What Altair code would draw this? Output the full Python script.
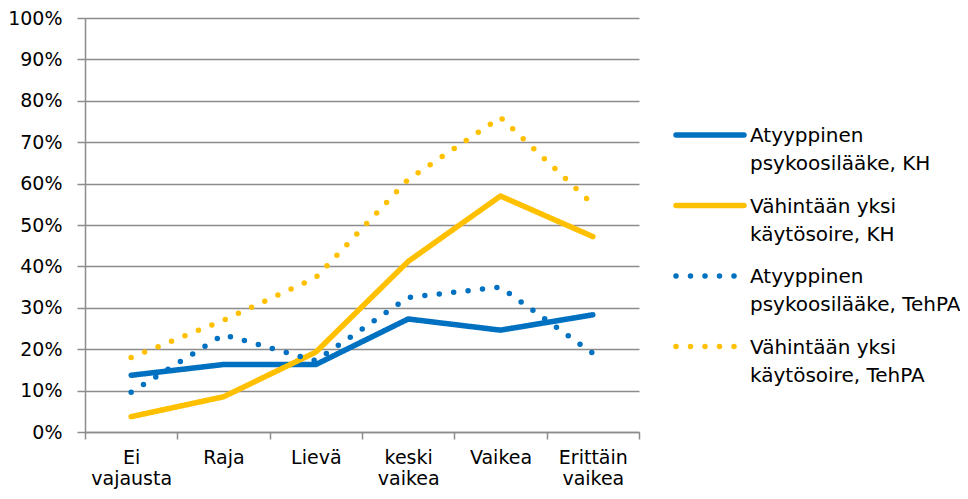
import altair as alt
import pandas as pd

categories = ["Ei vajausta", "Raja", "Lievä", "keski vaikea", "Vaikea", "Erittäin vaikea"]
series = [
    "Atyyppinen psykoosilääke, KH",
    "Vähintään yksi käytösoire, KH",
    "Atyyppinen psykoosilääke, TehPA",
    "Vähintään yksi käytösoire, TehPA",
]
aty_kh = [13.7, 16.3, 16.3, 27.3, 24.6, 28.3]
vah_kh = [3.7, 8.5, 19.3, 41.2, 57.0, 47.2]
aty_teh = [9.6, 23.5, 17.2, 32.5, 35.0, 19.0]
vah_teh = [18.0, 27.0, 37.3, 61.0, 76.0, 55.0]

colors = ["#0070C0", "#FFC000", "#0070C0", "#FFC000"]
dashes = [[1, 0], [1, 0], [0, 14.5], [0, 14.5]]
widths = [5.5, 5.5, 6.5, 6.5]

rows = []
for s, vals in zip(series, [aty_kh, vah_kh, aty_teh, vah_teh]):
    for c, v in zip(categories, vals):
        rows.append({"category": c, "series": s, "value": v / 100})
df = pd.DataFrame(rows)

leg_df = pd.DataFrame({
    "series": series,
    "label": [s.replace(" psyk", "\npsyk").replace(" käyt", "\nkäyt") for s in series],
})

FONT = "DejaVu Sans"
GRAY = "#8c8c8c"

color_enc = alt.Color("series:N", scale=alt.Scale(domain=series, range=colors), legend=None)
dash_enc = alt.StrokeDash("series:N", scale=alt.Scale(domain=series, range=dashes), legend=None)
width_enc = alt.StrokeWidth("series:N", scale=alt.Scale(domain=series, range=widths), legend=None)

lines = alt.Chart(df).mark_line(strokeCap="round", strokeJoin="round").encode(
    x=alt.X(
        "category:N",
        sort=categories,
        bandPosition=0.5,
        scale=alt.Scale(type="band", domain=categories, paddingInner=0, paddingOuter=0),
        axis=alt.Axis(
            title=None, labelAngle=0, tickBand="extent", grid=False,
            labelExpr="split(datum.label, ' ')", labelLineHeight=21,
            labelPadding=9, tickSize=7,
        ),
    ),
    y=alt.Y(
        "value:Q",
        scale=alt.Scale(domain=[0, 1]),
        axis=alt.Axis(
            title=None, format="%", values=[i / 10 for i in range(11)],
            tickSize=8, labelPadding=15, grid=True,
        ),
    ),
    color=color_enc,
    strokeDash=dash_enc,
    strokeWidth=width_enc,
)

leg_y = alt.Y(
    "series:N",
    scale=alt.Scale(type="point", domain=series, range=[117, 328.5], padding=0),
    axis=None,
)

leg_rule = alt.Chart(leg_df).mark_rule(strokeCap="round").encode(
    x=alt.value(591), x2=alt.value(659), y=leg_y,
    color=color_enc, strokeDash=dash_enc, strokeWidth=width_enc,
)

leg_text = alt.Chart(leg_df).mark_text(
    align="left", baseline="alphabetic", dy=7, lineBreak="\n", lineHeight=28,
    font=FONT, fontSize=20, color="#000000",
).encode(x=alt.value(665), y=leg_y, text="label:N")

chart = alt.layer(lines, leg_rule, leg_text).resolve_scale(y="independent").properties(
    width=554,
    height=414,
    autosize=alt.AutoSizeParams(type="none"),
    padding={"left": 77, "top": 10, "right": 321, "bottom": 59},
).configure_view(stroke=None).configure_axis(
    labelFont=FONT, labelFontSize=19, labelColor="#000000",
    domainColor=GRAY, tickColor=GRAY, gridColor=GRAY,
    domainWidth=1.5, gridWidth=1.5, tickWidth=1.5,
)

chart.save("out.html", embed_options={"renderer": "svg", "actions": False})
